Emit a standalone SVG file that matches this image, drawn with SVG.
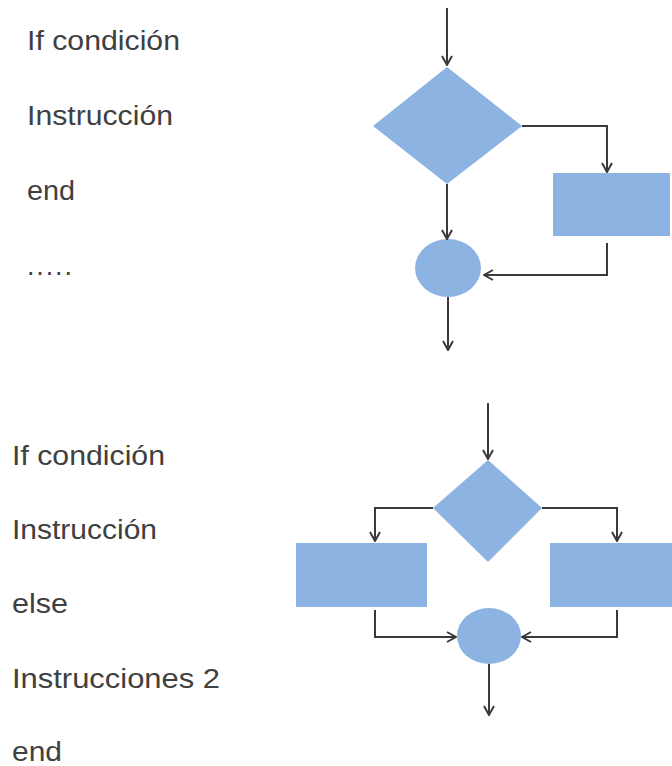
<svg xmlns="http://www.w3.org/2000/svg" width="672" height="766" viewBox="0 0 672 766">
  <style>
    .shape { fill: #8db3e2; }
    .line { fill: none; stroke: #3a3a3a; stroke-width: 2; marker-end: url(#arr); }
    .code { font-family: "Liberation Sans", Arial, sans-serif; font-size: 27px; fill: #404040; }
  </style>
  <defs>
    <marker id="arr" viewBox="0 0 12 12" refX="11" refY="6" markerWidth="12" markerHeight="12" markerUnits="userSpaceOnUse" orient="auto">
      <path d="M2,1 L11,6 L2,11" fill="none" stroke="#3a3a3a" stroke-width="2"/>
    </marker>
  </defs>
  <rect width="672" height="766" fill="#ffffff"/>

  <!-- pseudocode: simple if -->
  <g id="code-if">
    <text class="code" x="27" y="50" textLength="153" lengthAdjust="spacingAndGlyphs">If condición</text>
    <text class="code" x="27" y="125" textLength="146" lengthAdjust="spacingAndGlyphs">Instrucción</text>
    <text class="code" x="27" y="200" textLength="48" lengthAdjust="spacingAndGlyphs">end</text>
    <text class="code" x="27" y="275" textLength="45" lengthAdjust="spacing">.....</text>
  </g>

  <!-- pseudocode: if / else -->
  <g id="code-ifelse">
    <text class="code" x="12" y="465" textLength="153" lengthAdjust="spacingAndGlyphs">If condición</text>
    <text class="code" x="12" y="539" textLength="145" lengthAdjust="spacingAndGlyphs">Instrucción</text>
    <text class="code" x="12" y="613" textLength="56" lengthAdjust="spacingAndGlyphs">else</text>
    <text class="code" x="12" y="688" textLength="208" lengthAdjust="spacingAndGlyphs">Instrucciones 2</text>
    <text class="code" x="12" y="761" textLength="50" lengthAdjust="spacingAndGlyphs">end</text>
  </g>

  <!-- flowchart: simple if -->
  <g id="if-decision"><polygon class="shape" points="447,67 522,126 447,184 373,126"/></g>
  <g id="if-action"><rect class="shape" x="553" y="173" width="117" height="63"/></g>
  <g id="if-join"><ellipse class="shape" cx="448" cy="268" rx="33" ry="29"/></g>

  <!-- flowchart: if / else -->
  <g id="ifelse-decision"><polygon class="shape" points="488,460 542,508 488,562 433,508"/></g>
  <g id="ifelse-action-left"><rect class="shape" x="296" y="543" width="131" height="64"/></g>
  <g id="ifelse-action-right"><rect class="shape" x="550" y="543" width="122" height="64"/></g>
  <g id="ifelse-join"><ellipse class="shape" cx="489" cy="636" rx="32" ry="28"/></g>

  <g id="connectors">
    <path class="line" d="M447,8 V65"/>
    <path class="line" d="M522,126 H607 V172"/>
    <path class="line" d="M447,184 V239"/>
    <path class="line" d="M607,243 V275 H484"/>
    <path class="line" d="M448,297 V350"/>

    <path class="line" d="M488,403 V459"/>
    <path class="line" d="M433,508 H375 V541"/>
    <path class="line" d="M542,508 H617 V541"/>
    <path class="line" d="M375,610 V637 H456"/>
    <path class="line" d="M617,610 V637 H522"/>
    <path class="line" d="M489,664 V715"/>
  </g>
</svg>
